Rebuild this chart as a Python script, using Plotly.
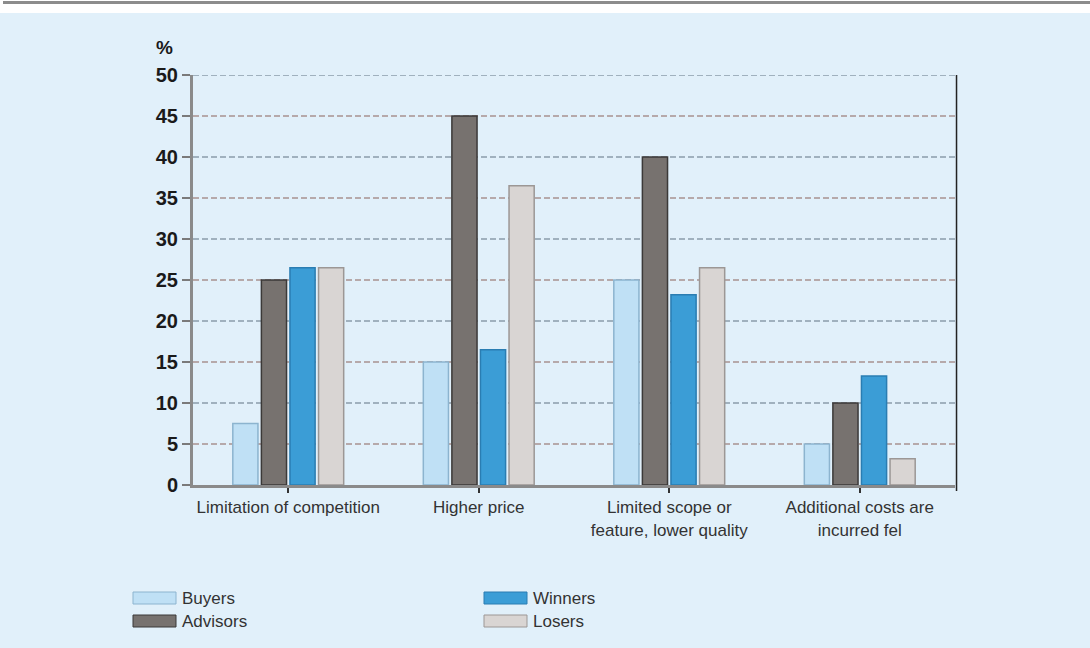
import plotly.graph_objects as go

# Survey data: share of respondents (%) naming each disadvantage
categories = [
    "Limitation of competition",
    "Higher price",
    "Limited scope or<br>feature, lower quality",
    "Additional costs are<br>incurred fel",
]
buyers = [7.5, 15, 25, 5]
advisors = [25, 45, 40, 10]
winners = [26.5, 16.5, 23.2, 13.3]
losers = [26.5, 36.5, 26.5, 3.2]

series_names = ["Buyers", "Advisors", "Winners", "Losers"]
series_values = [buyers, advisors, winners, losers]
fill_colors = ["#bfe0f5", "#77726f", "#3b9dd6", "#d9d5d3"]
edge_colors = ["#8cb4cf", "#3b3938", "#2a7db2", "#9c9795"]

y_ticks = [0, 5, 10, 15, 20, 25, 30, 35, 40, 45, 50]

W, H = 1090, 648
L, R, T, B = 193, 955, 75, 485  # plot area in pixels


def px_x(p):
    return (p - L) / (R - L)


def px_y(p):
    return (B - p) / (B - T)


fig = go.Figure()
for name, vals, fc, ec in zip(series_names, series_values, fill_colors, edge_colors):
    fig.add_trace(go.Bar(
        name=name, x=list(range(len(categories))), y=vals,
        marker=dict(color=fc, line=dict(color=ec, width=1.5)),
        showlegend=False,
    ))

shapes = []
# page background band and top rule
shapes.append(dict(type="rect", xref="paper", yref="paper", layer="below",
                   x0=px_x(-5), x1=px_x(W + 5), y0=px_y(13), y1=px_y(-5),
                   fillcolor="white", line=dict(width=0)))
shapes.append(dict(type="line", xref="paper", yref="paper",
                   x0=px_x(3), x1=px_x(W + 5), y0=px_y(2.5), y1=px_y(2.5),
                   line=dict(color="#8c8c8c", width=3)))
# alternating dashed gridlines
for v in y_ticks[1:]:
    col = "#8a9caa" if v % 10 == 0 else "#a89190"
    shapes.append(dict(type="line", xref="paper", yref="y", layer="below",
                       x0=0, x1=1, y0=v, y1=v,
                       line=dict(color=col, width=1.5, dash="6px,3px")))
# right frame line
shapes.append(dict(type="line", xref="paper", yref="paper",
                   x0=1.002, x1=1.002, y0=px_y(491), y1=1,
                   line=dict(color="#222222", width=1.5)))

annotations = [dict(text="<b>%</b>", xref="paper", yref="paper",
                    x=px_x(164), y=px_y(48), xanchor="center", yanchor="middle",
                    showarrow=False,
                    font=dict(family="Liberation Sans", size=19, color="#1a1a1a"))]

# legend drawn as two columns of swatches
legend_pos = [(133, 598), (133, 621), (484, 598), (484, 621)]
for name, fc, ec, (sx, sy) in zip(series_names, fill_colors, edge_colors, legend_pos):
    shapes.append(dict(type="rect", xref="paper", yref="paper",
                       x0=px_x(sx), x1=px_x(sx + 43), y0=px_y(sy + 6), y1=px_y(sy - 6),
                       fillcolor=fc, line=dict(color=ec, width=1)))
    annotations.append(dict(text=name, xref="paper", yref="paper",
                            x=px_x(sx + 47), y=px_y(sy), xanchor="left", yanchor="middle",
                            showarrow=False,
                            font=dict(family="Liberation Sans", size=17, color="#333333")))

fig.update_layout(
    width=W, height=H,
    margin=dict(l=L, r=W - R, t=T, b=H - B, pad=0),
    paper_bgcolor="#e1f0fa", plot_bgcolor="rgba(0,0,0,0)",
    barmode="group", bargap=0.40, bargroupgap=0.12,
    shapes=shapes, annotations=annotations,
    xaxis=dict(
        tickmode="array", tickvals=list(range(len(categories))), ticktext=categories,
        range=[-0.5, len(categories) - 0.5], tickson="boundaries",
        ticks="outside", ticklen=5, tickwidth=2, tickcolor="#333333",
        showgrid=False, showline=True, linecolor="#8a8a8a", linewidth=3,
        zeroline=False,
        tickfont=dict(family="Liberation Sans", size=17, color="#333333"),
    ),
    yaxis=dict(
        range=[0, 50], tickmode="array", tickvals=y_ticks,
        ticks="outside", ticklen=8, tickwidth=2, tickcolor="#7a7a7a",
        showgrid=False, showline=True, linecolor="#8a8a8a", linewidth=3,
        zeroline=False,
        tickfont=dict(family="Liberation Sans", size=20, color="#1a1a1a", weight="bold"),
    ),
)

fig.write_html("out.html")
